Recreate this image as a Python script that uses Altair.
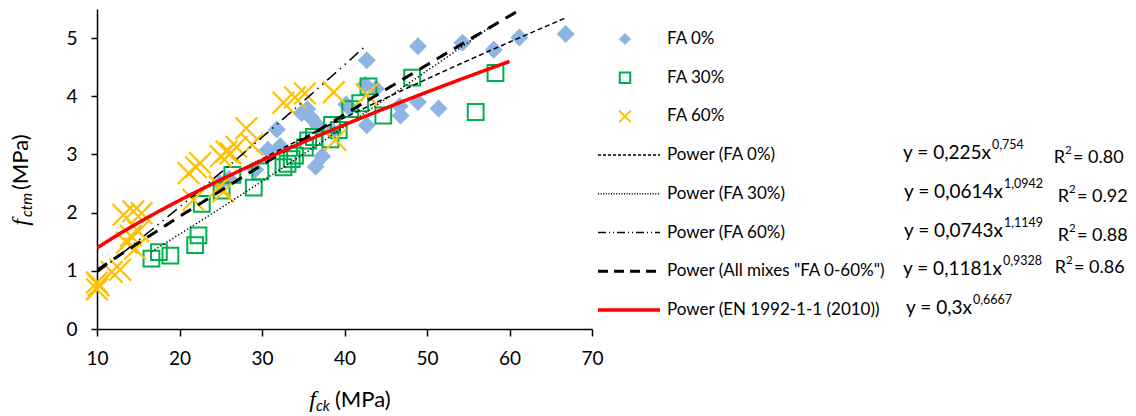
import altair as alt
import numpy as np
import pandas as pd

# ---------------- data ----------------
fa0_x = [24.9, 26.0, 29.2, 30.7, 32.2, 31.8, 34.8, 35.5, 35.9, 36.5, 37.3, 36.8, 38.5, 40.2,
         40.6, 42.7, 42.7, 42.5, 43.8, 46.7, 46.8, 48.9, 51.4, 48.9, 54.3, 58.1, 61.2, 66.8]
fa0_y = [2.50, 2.58, 2.74, 3.08, 3.14, 3.43, 3.71, 3.78, 3.64, 2.79, 2.97, 3.49, 3.40, 3.86,
         3.80, 3.50, 4.62, 4.20, 4.13, 3.83, 3.67, 3.90, 3.79, 4.86, 4.92, 4.80, 5.01, 5.07]

fa30_x = [16.6, 17.5, 18.9, 21.9, 22.3, 22.7, 25.1, 26.4, 29.0, 29.8, 32.6, 33.1, 33.6, 34.0,
          35.2, 35.6, 36.3, 38.3, 38.5, 39.3, 40.7, 41.9, 42.9, 44.7, 48.2, 55.9, 58.3]
fa30_y = [1.21, 1.32, 1.26, 1.44, 1.61, 2.15, 2.38, 2.65, 2.43, 2.71, 2.78, 2.84, 2.92, 2.98,
          3.12, 3.24, 3.30, 3.26, 3.51, 3.42, 3.78, 3.88, 4.17, 3.67, 4.32, 3.73, 4.40]

fa60_x = [10.0, 10.2, 10.0, 11.8, 12.8, 13.2, 14.4, 15.4, 13.6, 14.1, 15.0, 14.6, 21.1, 21.7,
          22.5, 22.0, 24.9, 25.3, 25.0, 25.7, 26.2, 26.9, 28.1, 28.8, 32.6, 34.0, 35.2, 38.7,
          38.9, 42.7]
fa60_y = [0.68, 0.75, 0.80, 0.98, 1.02, 1.96, 2.02, 1.99, 1.48, 1.60, 1.68, 1.38, 2.68, 2.22,
          2.85, 2.78, 2.45, 2.36, 2.97, 3.05, 3.02, 3.13, 3.45, 3.17, 3.89, 3.98, 4.05, 4.07,
          3.25, 4.03]

series_labels = ["FA 0%", "FA 30%", "FA 60%"]

trend_labels = ["Power (FA 0%)", "Power (FA 30%)", "Power (FA 60%)",
                'Power (All mixes "FA 0-60%")', "Power (EN 1992-1-1 (2010))"]
trend_a = [0.225, 0.0614, 0.0743, 0.1181, 0.3]
trend_b = [0.754, 1.0942, 1.1149, 0.9328, 0.6667]
trend_x0 = [24.9, 16.6, 10.0, 10.0, 10.0]
trend_x1 = [66.8, 58.3, 42.7, 66.8, 60.0]

eq_main = ["y = 0,225x", "y = 0,0614x", "y = 0,0743x", "y = 0,1181x", "y = 0,3x"]
eq_sup = ["0,754", "1,0942", "1,1149", "0,9328", "0,6667"]
r2_vals = ["= 0.80", "= 0.92", "= 0.88", "= 0.86"]

x_ticks = [10, 20, 30, 40, 50, 60, 70]
y_ticks = [0, 1, 2, 3, 4, 5]

# ---------------- styles ----------------
C_BLUE, C_GREEN, C_YEL, C_RED = "#8EB4E3", "#00B050", "#FFC000", "#FF0000"
X_PATH = "M-1,-1L1,1M1,-1L-1,1"
line_colors = ["black", "black", "black", "black", C_RED]
line_widths = [1.5, 1.5, 1.5, 3.0, 3.5]
line_dash = [[5, 3], [1.3, 2.2], [12, 5, 1.5, 5, 1.5, 5], [12, 8], [1, 0]]
leg_dash = [[3, 2], [1, 1.6], [8, 3, 1, 3, 1, 3], [10, 6], [1, 0]]

FONT = "Lato"
W, H = 495, 320
PAD_L, PAD_T = 97, 9

xs = alt.Scale(domain=[10, 70], nice=False, zero=False)
ys = alt.Scale(domain=[0, 5.5], nice=False, zero=False)

x_axis = alt.Axis(values=x_ticks, tickSize=7, tickWidth=1.5, domainWidth=1.5,
                  domainColor="black", tickColor="black", labelFont=FONT,
                  labelFontSize=19, labelColor="black", labelPadding=13, grid=False,
                  title=None, labelFlush=False)
y_axis = alt.Axis(values=y_ticks, tickSize=6, tickWidth=1.5, domainWidth=1.5,
                  domainColor="black", tickColor="black", labelFont=FONT,
                  labelFontSize=19, labelColor="black", labelPadding=14, grid=False,
                  title=None, labelFlush=False)


def pts(xv, yv):
    return pd.DataFrame({"x": xv, "y": yv})


def enc(ch):
    return ch.encode(
        x=alt.X("x:Q", scale=xs, axis=x_axis),
        y=alt.Y("y:Q", scale=ys, axis=y_axis),
    )


blue = enc(alt.Chart(pts(fa0_x, fa0_y)).mark_point(
    shape="diamond", filled=True, color=C_BLUE, size=320, opacity=1, strokeWidth=0))
green = enc(alt.Chart(pts(fa30_x, fa30_y)).mark_point(
    shape="square", filled=False, color=C_GREEN, size=250, opacity=1, strokeWidth=2))
yellow = enc(alt.Chart(pts(fa60_x, fa60_y)).mark_point(
    shape=X_PATH, filled=False, color=C_YEL, size=470, opacity=1, strokeWidth=2.2))

lines = []
for i in range(5):
    xv = np.linspace(trend_x0[i], trend_x1[i], 150)
    yv = trend_a[i] * xv ** trend_b[i]
    lines.append(enc(alt.Chart(pts(xv, yv)).mark_line(
        color=line_colors[i], strokeWidth=line_widths[i], strokeDash=line_dash[i],
        clip=True)))

main = alt.layer(blue, green, yellow, *lines)

# ---------------- overlay (legend and rich axis titles), page-pixel scales ----------------
PX = alt.Scale(domain=[PAD_L, PAD_L + W], nice=False, zero=False)
PY = alt.Scale(domain=[PAD_T, PAD_T + H], nice=False, zero=False, reverse=True)


def ov(df, mark_fn, **kw):
    ch = getattr(alt.Chart(df), mark_fn)(**kw)
    e = dict(x=alt.X("x:Q", scale=PX, axis=None), y=alt.Y("y:Q", scale=PY, axis=None))
    if "t" in df.columns:
        e["text"] = alt.Text("t:N")
    if "x2" in df.columns:
        e["x2"] = alt.X2("x2:Q")
    return ch.encode(**e)


row_y = [39 + 38.7 * i for i in range(8)]
SYM_X, LBL_X = 625, 667

overlay = []
# legend symbols
overlay.append(ov(pd.DataFrame({"x": [SYM_X], "y": [row_y[0]]}), "mark_point",
                  shape="diamond", filled=True, color=C_BLUE, size=150, opacity=1, strokeWidth=0))
overlay.append(ov(pd.DataFrame({"x": [SYM_X], "y": [row_y[1]]}), "mark_point",
                  shape="square", filled=False, color=C_GREEN, size=110, opacity=1, strokeWidth=2))
overlay.append(ov(pd.DataFrame({"x": [SYM_X], "y": [row_y[2]]}), "mark_point",
                  shape=X_PATH, filled=False, color=C_YEL, size=130, opacity=1, strokeWidth=2))
for i in range(5):
    overlay.append(ov(pd.DataFrame({"x": [598], "x2": [660], "y": [row_y[3 + i]]}), "mark_rule",
                      color=line_colors[i], strokeWidth=line_widths[i],
                      strokeDash=leg_dash[i]))
# legend labels
overlay.append(ov(pd.DataFrame({"x": [LBL_X] * 8, "y": row_y,
                                "t": series_labels + trend_labels}), "mark_text",
                  align="left", baseline="middle", font=FONT, fontSize=17, color="black"))
# equations
sup_x = [992, 1004, 1004, 1003, 973]
eq_y = [row_y[3 + i] - 2 for i in range(5)]
overlay.append(ov(pd.DataFrame({"x": [s - 1 for s in sup_x], "y": eq_y, "t": eq_main}),
                  "mark_text", align="right", baseline="middle", font=FONT, fontSize=19,
                  color="black"))
overlay.append(ov(pd.DataFrame({"x": sup_x, "y": [v - 8 for v in eq_y], "t": eq_sup}),
                  "mark_text", align="left", baseline="middle", font=FONT, fontSize=12.5,
                  color="black"))
# R^2
r_x = [1065, 1069, 1069, 1066]
r_y = [row_y[3] + 3, row_y[4] + 3, row_y[5] + 3, row_y[6] - 3]
overlay.append(ov(pd.DataFrame({"x": r_x, "y": r_y, "t": ["R"] * 4}), "mark_text",
                  align="right", baseline="middle", font=FONT, fontSize=18, color="black"))
overlay.append(ov(pd.DataFrame({"x": r_x, "y": [v - 7 for v in r_y], "t": ["2"] * 4}),
                  "mark_text", align="left", baseline="middle", font=FONT, fontSize=11.5,
                  color="black"))
overlay.append(ov(pd.DataFrame({"x": [v + 8 for v in r_x], "y": r_y, "t": r2_vals}),
                  "mark_text", align="left", baseline="middle", font=FONT, fontSize=18,
                  color="black"))

# x-axis title  f_ck (MPa)
overlay.append(ov(pd.DataFrame({"x": [316], "y": [407], "t": ["f"]}), "mark_text",
                  align="right", baseline="alphabetic", font="Liberation Serif",
                  fontStyle="italic", fontSize=24, color="black"))
overlay.append(ov(pd.DataFrame({"x": [316], "y": [411], "t": ["ck"]}), "mark_text",
                  align="left", baseline="alphabetic", font=FONT, fontStyle="italic",
                  fontSize=15, color="black"))
overlay.append(ov(pd.DataFrame({"x": [335], "y": [407], "t": ["(MPa)"]}), "mark_text",
                  align="left", baseline="alphabetic", font=FONT, fontSize=22, color="black"))
# y-axis title  f_ctm (MPa), rotated
overlay.append(ov(pd.DataFrame({"x": [28], "y": [219], "t": ["f"]}), "mark_text",
                  align="right", baseline="alphabetic", angle=270, font="Liberation Serif",
                  fontStyle="italic", fontSize=24, color="black"))
overlay.append(ov(pd.DataFrame({"x": [32], "y": [217], "t": ["ctm"]}), "mark_text",
                  align="left", baseline="alphabetic", angle=270, font=FONT,
                  fontStyle="italic", fontSize=15, color="black"))
overlay.append(ov(pd.DataFrame({"x": [28], "y": [190], "t": ["(MPa)"]}), "mark_text",
                  align="left", baseline="alphabetic", angle=270, font=FONT, fontSize=22,
                  color="black"))

over = alt.layer(*overlay)

chart = alt.layer(main, over).resolve_scale(x="independent", y="independent").properties(
    width=W, height=H,
    autosize=alt.AutoSizeParams(type="none"),
    padding={"left": PAD_L, "top": PAD_T, "right": 1136 - PAD_L - W, "bottom": 416 - PAD_T - H},
    background="white",
).configure_view(stroke=None)

chart.save("out.html", embed_options={"renderer": "svg", "actions": False})
